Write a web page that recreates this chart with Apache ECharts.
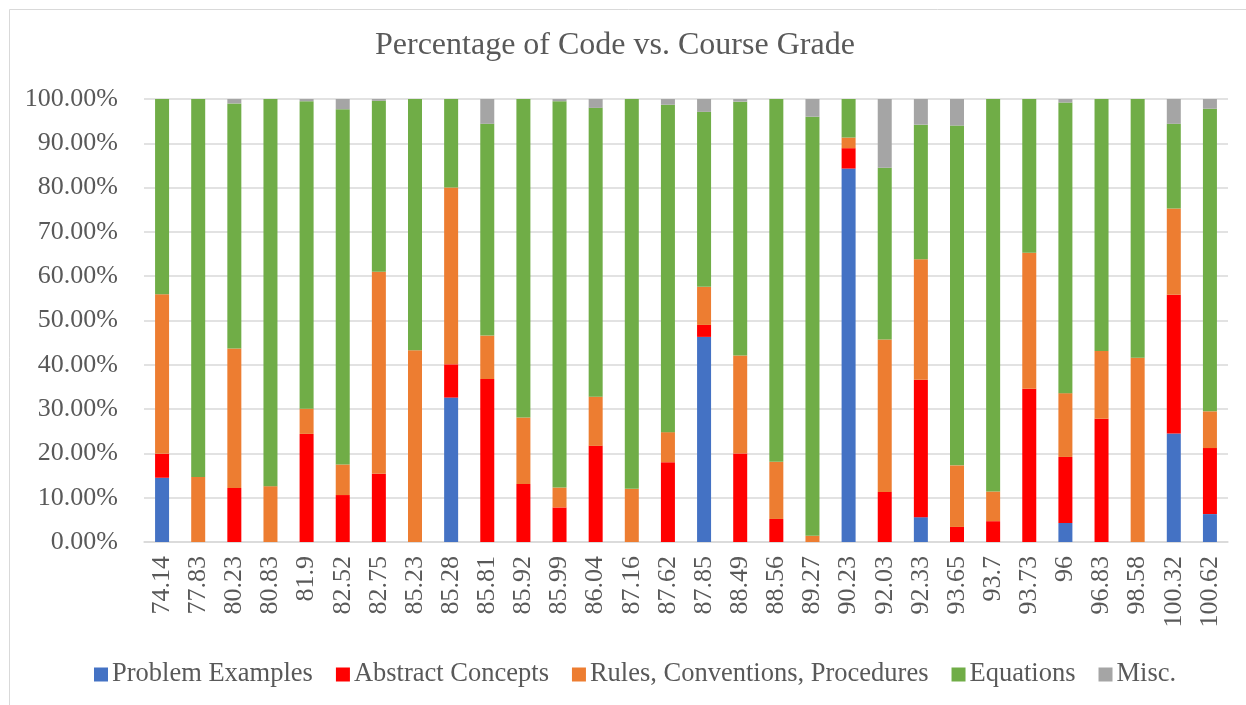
<!DOCTYPE html>
<html>
<head>
<meta charset="utf-8">
<script src="https://cdn.jsdelivr.net/npm/echarts@6/dist/echarts.min.js"></script>
<style>
  html, body { margin: 0; padding: 0; background: #fff; }
  #chart { width: 1246px; height: 705px; }
</style>
</head>
<body>
<div id="chart"></div>
<script>
// course grades (x categories)
const grades = ['74.14', '77.83', '80.23', '80.83', '81.9', '82.52', '82.75', '85.23', '85.28', '85.81',
  '85.92', '85.99', '86.04', '87.16', '87.62', '87.85', '88.49', '88.56', '89.27', '90.23',
  '92.03', '92.33', '93.65', '93.7', '93.73', '96', '96.83', '98.58', '100.32', '100.62'];

// share of each code, in percent
const problemExamples = [14.5, 0, 0, 0, 0, 0, 0, 0, 32.6, 0,
  0, 0, 0, 0, 0, 46.3, 0, 0, 0, 84.3,
  0, 5.6, 0, 0, 0, 4.3, 0, 0, 24.5, 6.3];
const abstractConcepts = [5.4, 0, 12.2, 0, 24.4, 10.6, 15.4, 0, 7.5, 36.8,
  13.1, 7.8, 21.7, 0, 18.0, 2.7, 20.0, 5.2, 0, 4.6,
  11.3, 31.0, 3.4, 4.7, 34.6, 14.9, 27.8, 0, 31.3, 14.9];
const rulesConventions = [36.0, 14.7, 31.5, 12.6, 5.7, 6.9, 45.6, 43.3, 39.9, 9.8,
  15.0, 4.5, 11.1, 12.0, 6.8, 8.6, 22.1, 12.9, 1.4, 2.4,
  34.4, 27.2, 13.9, 6.7, 30.7, 14.4, 15.3, 41.6, 19.5, 8.3];
const equations = [44.1, 85.3, 55.3, 87.4, 69.4, 80.2, 38.6, 56.7, 20.0, 47.8,
  71.9, 87.2, 65.2, 88.0, 73.9, 39.5, 57.3, 81.9, 94.6, 8.7,
  38.8, 30.4, 76.7, 88.6, 34.7, 65.6, 56.9, 58.4, 19.1, 68.3];
const misc = [0, 0, 1.0, 0, 0.5, 2.3, 0.4, 0, 0, 5.6,
  0, 0.5, 2.0, 0, 1.3, 2.9, 0.6, 0, 4.0, 0,
  15.5, 5.8, 6.0, 0, 0, 0.8, 0, 0, 5.6, 2.2];

const yTicks = [0, 10, 20, 30, 40, 50, 60, 70, 80, 90, 100];

const font = '"Liberation Serif", "Times New Roman", serif';
const textColor = '#595959';

const seriesDefs = [
  { name: 'Problem Examples', data: problemExamples, color: '#4472C4' },
  { name: 'Abstract Concepts', data: abstractConcepts, color: '#FF0000' },
  { name: 'Rules, Conventions, Procedures', data: rulesConventions, color: '#ED7D31' },
  { name: 'Equations', data: equations, color: '#70AD47' },
  { name: 'Misc.', data: misc, color: '#A5A5A5' }
];

const chart = echarts.init(document.getElementById('chart'), null, { renderer: 'canvas' });

chart.setOption({
  backgroundColor: '#fff',
  animation: false,
  graphic: [{
    type: 'rect',
    shape: { x: 9.5, y: 9.5, width: 1300, height: 800 },
    style: { fill: 'none', stroke: '#d9d9d9', lineWidth: 1 },
    silent: true
  }],
  title: {
    text: 'Percentage of Code vs. Course Grade',
    left: 370,
    top: 25,
    textStyle: { fontFamily: font, fontSize: 32, fontWeight: 'normal', color: textColor }
  },
  legend: {
    top: 656,
    left: 89,
    itemWidth: 14,
    itemHeight: 14,
    itemGap: 23,
    icon: 'rect',
    textStyle: { fontFamily: font, fontSize: 26.5, color: textColor, padding: [0, 0, 0, -1] },
    data: seriesDefs.map(s => s.name)
  },
  grid: { left: 144, right: 18, top: 99, bottom: 163, containLabel: false },
  xAxis: {
    type: 'category',
    data: grades,
    axisLine: { lineStyle: { color: '#d9d9d9', width: 1.5 } },
    axisTick: { show: false },
    axisLabel: {
      rotate: 90,
      margin: 14,
      fontFamily: font,
      fontSize: 26,
      color: textColor
    }
  },
  yAxis: {
    type: 'value',
    min: yTicks[0],
    max: yTicks[yTicks.length - 1],
    interval: 10,
    axisLine: { show: false },
    axisTick: { show: false },
    splitLine: { lineStyle: { color: '#d9d9d9', width: 1.5 } },
    axisLabel: {
      margin: 26,
      fontFamily: font,
      fontSize: 26,
      color: textColor,
      formatter: v => v.toFixed(2) + '%'
    }
  },
  series: seriesDefs.map(s => ({
    name: s.name,
    type: 'bar',
    stack: 'total',
    barWidth: 14,
    data: s.data,
    itemStyle: { color: s.color }
  }))
});
</script>
</body>
</html>
